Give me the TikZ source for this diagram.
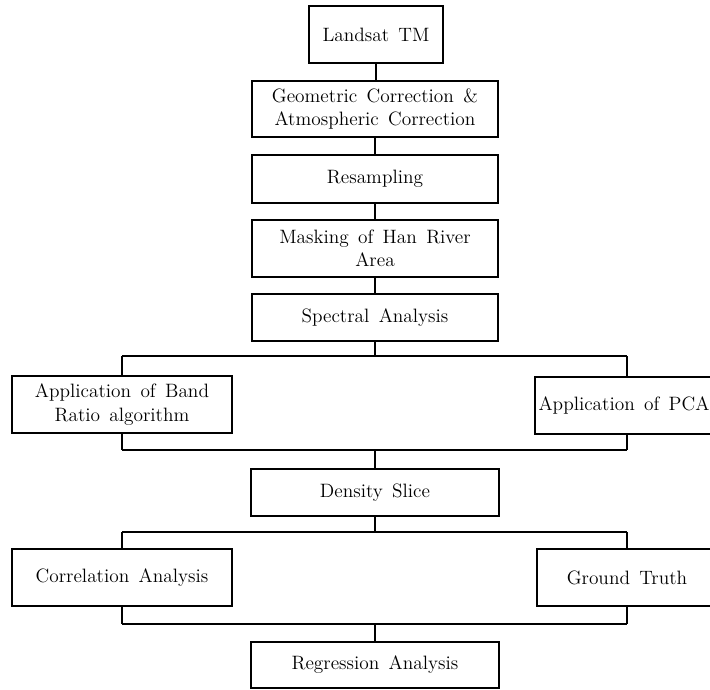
\documentclass[tikz,border=0pt]{standalone}
\newcommand\myboxfont{\fontsize{14.5}{17.5}\selectfont\spaceskip 7pt plus 2pt minus 1pt\relax}
\begin{document}
\begin{tikzpicture}[x=0.75pt,y=-0.75pt,
  bx/.style={draw, line width=1.1pt, inner sep=0pt, align=center, font=\myboxfont},
  ln/.style={line width=1.1pt}]
\useasboundingbox (0,0) rectangle (710,689);
\clip (0,0) rectangle (710,689);
\fill[white] (0,0) rectangle (710,689);
% nodes
\node[bx, minimum width=100.5pt, minimum height=42.75pt] (landsat) at (376,34.5) {Landsat TM};
\node[bx, minimum width=184.5pt, minimum height=42pt] (geo) at (375,109) {Geometric Correction \&\\Atmospheric Correction};
\node[bx, minimum width=184.5pt, minimum height=36pt] (resamp) at (375,179) {Resampling};
\node[bx, minimum width=184.5pt, minimum height=42.75pt] (mask) at (375,248.5) {Masking of Han River\\Area};
\node[bx, minimum width=184.5pt, minimum height=35.25pt] (spec) at (375,317.5) {Spectral Analysis};
\node[bx, minimum width=165pt, minimum height=42.75pt] (band) at (122,404.5) {Application of Band\\Ratio algorithm};
\node[bx, minimum width=133.5pt, minimum height=42.75pt] (pca) at (624,405.5) {Application of PCA};
\node[bx, minimum width=186pt, minimum height=35.25pt] (dens) at (375,492.5) {Density Slice};
\node[bx, minimum width=165pt, minimum height=42.75pt] (corr) at (122,577.5) {Correlation Analysis};
\node[bx, minimum width=135pt, minimum height=42.75pt] (gt) at (627,577.5) {Ground Truth};
\node[bx, minimum width=186pt, minimum height=34.5pt] (regr) at (375,665) {Regression Analysis};
% junction coordinates
\coordinate (j1) at (375,356);
\coordinate (j1l) at (122,356);
\coordinate (j1r) at (627,356);
\coordinate (j2) at (375,450);
\coordinate (j2l) at (122,450);
\coordinate (j2r) at (627,450);
\coordinate (j3) at (375,532);
\coordinate (j3l) at (122,532);
\coordinate (j3r) at (627,532);
\coordinate (j4) at (375,624);
\coordinate (j4l) at (122,624);
\coordinate (j4r) at (627,624);
% connectors
\draw[ln] (landsat.south) -- (landsat.south |- geo.north);
\draw[ln] (geo.south) -- (resamp.north);
\draw[ln] (resamp.south) -- (mask.north);
\draw[ln] (mask.south) -- (spec.north);
\draw[ln] (spec.south) -- (j1);
\draw[ln] (j1l) -- (j1r);
\draw[ln] (j1l) -- (band.north);
\draw[ln] (j1r) -- (j1r |- pca.north);
\draw[ln] (band.south) -- (j2l);
\draw[ln] (j2r |- pca.south) -- (j2r);
\draw[ln] (j2l) -- (j2r);
\draw[ln] (j2) -- (dens.north);
\draw[ln] (dens.south) -- (j3);
\draw[ln] (j3l) -- (j3r);
\draw[ln] (j3l) -- (corr.north);
\draw[ln] (j3r) -- (gt.north);
\draw[ln] (corr.south) -- (j4l);
\draw[ln] (gt.south) -- (j4r);
\draw[ln] (j4l) -- (j4r);
\draw[ln] (j4) -- (regr.north);
\end{tikzpicture}
\end{document}
